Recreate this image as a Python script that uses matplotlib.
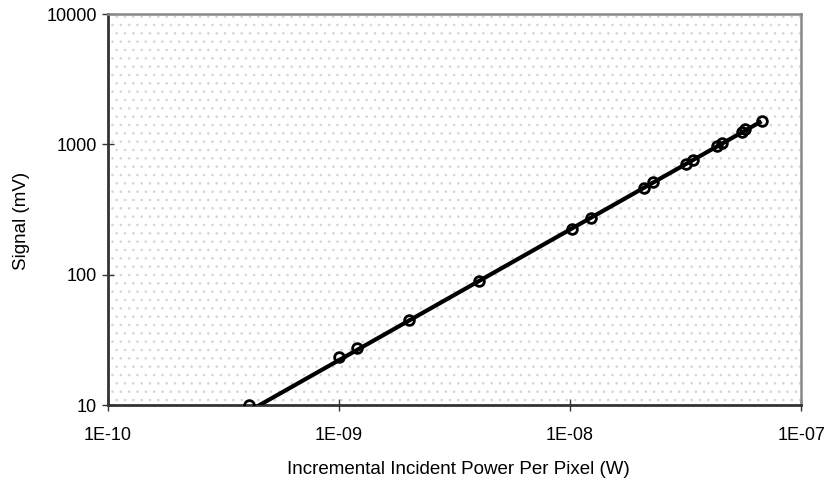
import matplotlib.pyplot as plt

plt.rcParams['font.family'] = ['Liberation Sans', 'DejaVu Sans']
plt.rcParams['hatch.color'] = '#d4d4d4'
plt.rcParams['hatch.linewidth'] = 0.6

# measured points (W, mV)
power_w = [4.06e-10, 1.0e-9, 1.2e-9, 2.0e-9, 4.05e-9, 1.02e-8, 1.23e-8,
           2.08e-8, 2.28e-8, 3.18e-8, 3.40e-8, 4.31e-8, 4.53e-8, 5.53e-8,
           5.74e-8, 6.74e-8]
signal_mv = [10.1, 23.2, 27.2, 44.9, 89.5, 223, 271, 465, 512, 707, 759,
             977, 1031, 1251, 1320, 1504]

# straight line drawn through the data
fit_w = [4.3e-10, 6.74e-8]
fit_mv = [9.5, 1504]

xticks = [1e-10, 1e-9, 1e-8, 1e-7]
xtick_labels = ['1E-10', '1E-09', '1E-08', '1E-07']
yticks = [10, 100, 1000, 10000]
ytick_labels = ['10', '100', '1000', '10000']

fig = plt.figure(figsize=(8.31, 4.84), dpi=100)
ax = fig.add_axes([0.130, 0.163, 0.834, 0.808])

# stippled plot area
ax.patch.set_hatch('..')
ax.patch.set_edgecolor('#d4d4d4')

ax.plot(fit_w, fit_mv, color='black', lw=3.0, solid_capstyle='butt', zorder=3)
ax.plot(power_w, signal_mv, ls='none', marker='o', ms=7, mfc='none',
        mec='black', mew=2.0, zorder=4)

ax.set_xscale('log')
ax.set_yscale('log')
ax.set_xlim(1e-10, 1e-7)
ax.set_ylim(10, 10000)
ax.minorticks_off()
ax.set_xticks(xticks)
ax.set_xticklabels(xtick_labels)
ax.set_yticks(yticks)
ax.set_yticklabels(ytick_labels)
ax.tick_params(direction='inout', length=8, width=1, color='#333333',
               labelsize=13)
ax.tick_params(axis='x', pad=12)
ax.tick_params(axis='y', pad=4)

for side in ['left', 'bottom']:
    ax.spines[side].set_color('#333333')
    ax.spines[side].set_linewidth(2.0)
for side in ['top', 'right']:
    ax.spines[side].set_color('#888888')
    ax.spines[side].set_linewidth(1.8)

ax.set_xlabel('Incremental Incident Power Per Pixel (W)', fontsize=13.5)
ax.set_ylabel('Signal (mV)', fontsize=13.5)
ax.xaxis.set_label_coords(0.505, -0.142)
ax.yaxis.set_label_coords(-0.112, 0.47)

fig.savefig('out.png', dpi=100)
